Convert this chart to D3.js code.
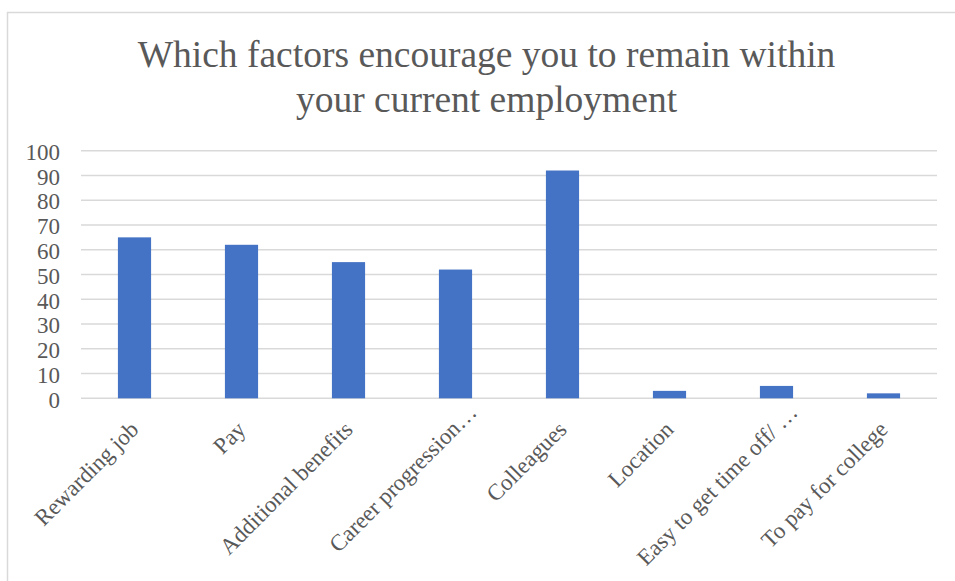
<!DOCTYPE html>
<html>
<head>
<meta charset="utf-8">
<script src="https://cdn.jsdelivr.net/npm/d3@7"></script>
<style>
  html, body { margin: 0; padding: 0; background: #fff; }
  svg { display: block; }
</style>
</head>
<body>
<svg id="chart" width="955" height="581"></svg>
<script>
// Survey responses: reasons for staying with the current employer
const categories = [
  "Rewarding job",
  "Pay",
  "Additional benefits",
  "Career progression…",
  "Colleagues",
  "Location",
  "Easy to get time off/ …",
  "To pay for college"
];
const values = [65, 62, 55, 52, 92, 3, 5, 2];
const yTicks = [0, 10, 20, 30, 40, 50, 60, 70, 80, 90, 100];
const titleLines = ["Which factors encourage you to remain within", "your current employment"];

const svg = d3.select("#chart");
const font = "'Liberation Serif', 'Times New Roman', serif";
const textColor = "#595959";
const gridColor = "#d9d9d9";

// Chart frame
svg.append("rect")
  .attr("x", 7.5).attr("y", 12.5)
  .attr("width", 1000).attr("height", 700)
  .attr("fill", "#fff")
  .attr("stroke", gridColor).attr("stroke-width", 1.5);

// Title
svg.append("g").selectAll("text")
  .data(titleLines)
  .join("text")
  .attr("x", 486.5)
  .attr("y", (d, i) => 67 + i * 44.5)
  .attr("text-anchor", "middle")
  .attr("font-family", font)
  .attr("font-size", 37.5)
  .attr("fill", textColor)
  .text(d => d);

const plot = { left: 81, right: 937, top: 150.7, bottom: 398.3 };

const x = d3.scaleBand()
  .domain(categories)
  .range([plot.left, plot.right])
  .paddingInner(0.69)
  .paddingOuter(0.345);

const y = d3.scaleLinear()
  .domain([0, 100])
  .range([plot.bottom, plot.top]);

// Horizontal gridlines
svg.append("g").selectAll("line")
  .data(yTicks)
  .join("line")
  .attr("x1", plot.left).attr("x2", plot.right)
  .attr("y1", d => y(d)).attr("y2", d => y(d))
  .attr("stroke", gridColor).attr("stroke-width", 1.5);

// Y axis labels
const yAxis = d3.axisLeft(y).tickValues(yTicks).tickSize(0).tickPadding(0);
const yg = svg.append("g")
  .attr("transform", `translate(60,0)`)
  .call(yAxis);
yg.select(".domain").remove();
yg.selectAll("text")
  .attr("font-family", font)
  .attr("font-size", 23)
  .attr("fill", textColor)
  .attr("dy", "0.38em");

// Bars
svg.append("g").selectAll("rect")
  .data(values)
  .join("rect")
  .attr("x", (d, i) => x(categories[i]))
  .attr("width", x.bandwidth())
  .attr("y", d => y(d))
  .attr("height", d => y(0) - y(d))
  .attr("fill", "#4472C4");

// Rotated category labels; truncated labels sit a little further along
const xAxis = d3.axisBottom(x).tickSize(0).tickPadding(0);
const xg = svg.append("g")
  .attr("transform", `translate(0,${plot.bottom})`)
  .call(xAxis);
xg.select(".domain").remove();
xg.selectAll(".tick text")
  .attr("font-family", font)
  .attr("font-size", 23)
  .attr("fill", textColor)
  .attr("text-anchor", "end")
  .attr("y", 0).attr("dy", 0)
  .attr("dx", d => d.endsWith("…") ? 24 : 0)
  .attr("transform", "translate(5.5,32.5) rotate(-45)");
</script>
</body>
</html>
